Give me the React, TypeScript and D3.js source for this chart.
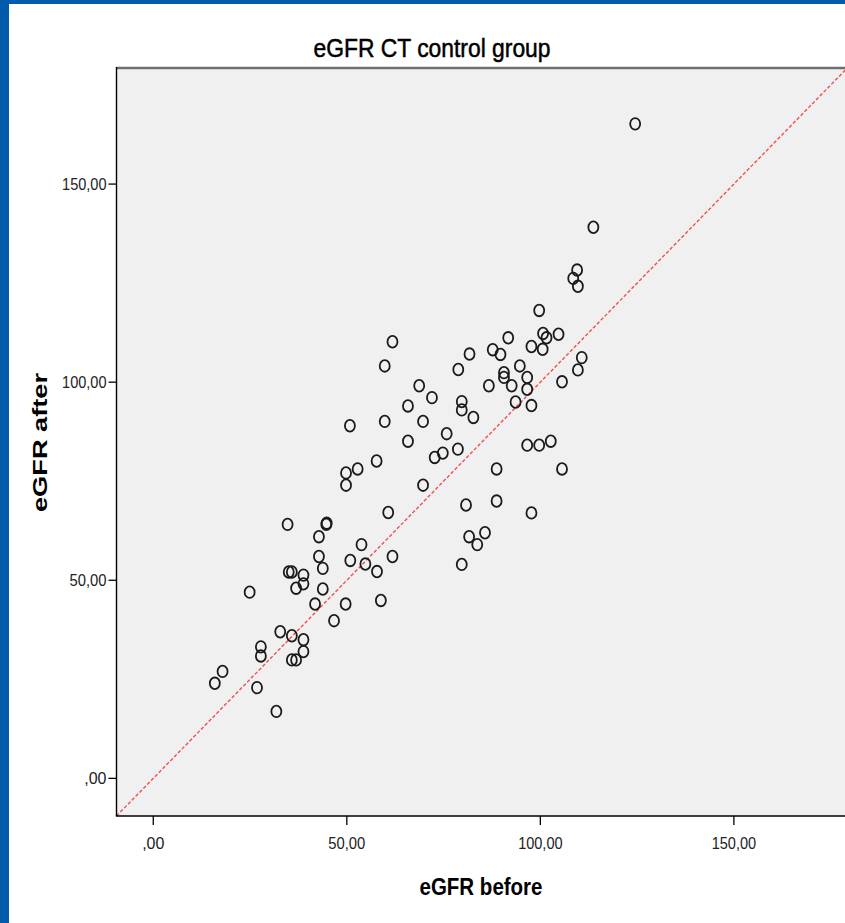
import React from "react";
import * as d3 from "d3";

const xBefore: number[] = [
  124.5, 113.7, 109.5, 108.5, 109.7, 99.7, 100.7, 101.6, 104.7, 91.7,
  100.6, 97.7, 81.7, 87.7, 89.7, 110.7, 109.7, 78.8, 94.7, 90.6,
  90.6, 96.6, 86.7, 92.6, 96.6, 105.6, 72.0, 79.7, 79.7, 93.6,
  97.7, 82.7, 75.8, 78.7, 74.8, 72.7, 96.6, 99.7, 102.7, 88.7,
  105.6, 80.8, 88.7, 97.7, 81.6, 85.7, 83.7, 79.7, 61.8, 59.8,
  68.7, 65.8, 69.7, 59.8, 50.8, 65.8, 57.7, 52.8, 49.8, 49.8,
  69.7, 60.7, 34.7, 44.7, 44.8, 42.8, 53.8, 42.8, 50.9, 54.8,
  61.8, 43.8, 35.0, 35.8, 38.8, 38.8, 57.8, 36.9, 43.8, 58.8,
  49.7, 41.8, 46.7, 24.9, 32.8, 35.8, 38.8, 38.8, 35.8, 36.9,
  17.9, 15.9, 27.8, 27.8, 26.8, 31.8,
];
const yAfter: number[] = [
  165.2, 139.1, 128.3, 126.2, 124.2, 118.1, 112.3, 111.2, 112.1, 111.2,
  108.3, 109.0, 107.1, 108.2, 107.0, 106.2, 103.1, 103.2, 104.1, 102.4,
  101.2, 101.2, 99.1, 99.1, 98.2, 100.1, 96.1, 95.1, 93.0, 95.0,
  94.1, 91.1, 87.0, 83.1, 82.1, 81.0, 84.1, 84.1, 85.1, 78.1,
  78.1, 69.0, 70.0, 67.0, 61.0, 62.0, 59.0, 54.0, 110.2, 104.1,
  99.1, 94.0, 90.1, 90.1, 89.0, 85.1, 80.1, 78.1, 77.1, 74.0,
  74.0, 67.1, 64.1, 64.1, 64.4, 61.0, 59.0, 56.0, 55.0, 54.1,
  56.0, 53.0, 52.1, 52.1, 51.3, 49.1, 52.2, 48.0, 47.8, 44.9,
  44.0, 44.0, 39.8, 47.0, 37.0, 36.0, 35.0, 32.0, 29.9, 29.9,
  27.0, 24.0, 33.2, 30.9, 22.9, 16.9,
];
const tickValues: number[] = [0, 50, 100, 150];
const tickLabels: string[] = [",00", "50,00", "100,00", "150,00"];
const titleText = "eGFR CT control group";
const xLabel = "eGFR before";
const yLabel = "eGFR after";

const W = 845;
const H = 923;
const plotLeft = 116.5;
const plotTop = 68;
const plotBottom = 816;
const plotRight = 850;
const font = "'Liberation Sans', Arial, sans-serif";

export default function App() {
  const x = d3.scaleLinear().domain([-9.5, 180]).range([plotLeft, plotRight]);
  const y = d3.scaleLinear().domain([-9.5, 179.3]).range([plotBottom, plotTop]);
  const pts = xBefore.map((v, i) => ({ x: v, y: yAfter[i] }));
  const diag = d3.line<number>().x((d) => x(d)).y((d) => y(d));
  const fmt = (v: number) => tickLabels[tickValues.indexOf(v)];

  return (
    <svg
      width={W}
      height={H}
      style={{ position: "absolute", left: 0, top: 0, background: "#fff" }}
    >
      <defs>
        <clipPath id="plotClip">
          <rect x={plotLeft} y={plotTop} width={plotRight - plotLeft} height={plotBottom - plotTop} />
        </clipPath>
      </defs>
      <rect x={0} y={0} width={W} height={H} fill="#ffffff" />
      <rect x={0} y={0} width={9} height={H} fill="#005BAA" />
      <rect x={0} y={0} width={W} height={4} fill="#005BAA" />

      {/* title */}
      <g transform={`translate(432,57) scale(1,1.15)`}>
        <text
          x={0}
          y={0}
          textAnchor="middle"
          fontFamily={font}
          fontSize={23}
          fill="#000"
          stroke="#000"
          strokeWidth={0.45}
          textLength={237}
          lengthAdjust="spacingAndGlyphs"
        >
          {titleText}
        </text>
      </g>

      {/* plot area */}
      <rect
        x={plotLeft}
        y={plotTop}
        width={plotRight - plotLeft}
        height={plotBottom - plotTop}
        fill="#f0f0f0"
      />

      <g clipPath="url(#plotClip)">
        <path
          d={diag([-9.5, 185]) || ""}
          fill="none"
          stroke="#f04f4f"
          strokeWidth={1.4}
          strokeDasharray="3.5,2"
        />
        {pts.map((p, i) => (
          <ellipse
            key={i}
            cx={x(p.x)}
            cy={y(p.y)}
            rx={5}
            ry={5.8}
            fill="none"
            stroke="#1a1a1a"
            strokeWidth={1.8}
          />
        ))}
      </g>

      {/* frame */}
      <line x1={plotLeft} x2={plotRight} y1={plotTop} y2={plotTop} stroke="#6f6f6f" strokeWidth={2.6} />
      <line x1={plotLeft} x2={plotLeft} y1={plotTop - 1} y2={plotBottom} stroke="#000" strokeWidth={1.4} />
      <line x1={plotLeft - 0.7} x2={plotRight} y1={plotBottom} y2={plotBottom} stroke="#000" strokeWidth={1.6} />

      {/* y ticks */}
      {tickValues.map((v) => (
        <g key={"y" + v}>
          <line x1={plotLeft - 8} x2={plotLeft} y1={y(v)} y2={y(v)} stroke="#000" strokeWidth={1.3} />
          <g transform={`translate(${plotLeft - 10},${y(v) + 5.5}) scale(1,1.12)`}>
            <text x={0} y={0} textAnchor="end" fontFamily={font} fontSize={14.5} fill="#222" textLength={fmt(v).length * 7.4} lengthAdjust="spacingAndGlyphs">
              {fmt(v)}
            </text>
          </g>
        </g>
      ))}

      {/* x ticks */}
      {tickValues.map((v) => (
        <g key={"x" + v}>
          <line x1={x(v)} x2={x(v)} y1={plotBottom} y2={plotBottom + 9} stroke="#000" strokeWidth={1.3} />
          <g transform={`translate(${x(v)},${849}) scale(1,1.12)`}>
            <text x={0} y={0} textAnchor="middle" fontFamily={font} fontSize={14.5} fill="#222" textLength={fmt(v).length * 7.4} lengthAdjust="spacingAndGlyphs">
              {fmt(v)}
            </text>
          </g>
        </g>
      ))}

      {/* axis labels */}
      <g transform={`translate(481,895) scale(1,1.15)`}>
        <text
          x={0}
          y={0}
          textAnchor="middle"
          fontFamily={font}
          fontSize={20.5}
          fontWeight="bold"
          fill="#000"
          textLength={123}
          lengthAdjust="spacingAndGlyphs"
        >
          {xLabel}
        </text>
      </g>
      <g transform={`translate(47,442.5) rotate(-90)`}>
        <text
          x={0}
          y={0}
          textAnchor="middle"
          fontFamily={font}
          fontSize={21}
          fontWeight="bold"
          fill="#000"
          textLength={139}
          lengthAdjust="spacingAndGlyphs"
        >
          {yLabel}
        </text>
      </g>
    </svg>
  );
}
